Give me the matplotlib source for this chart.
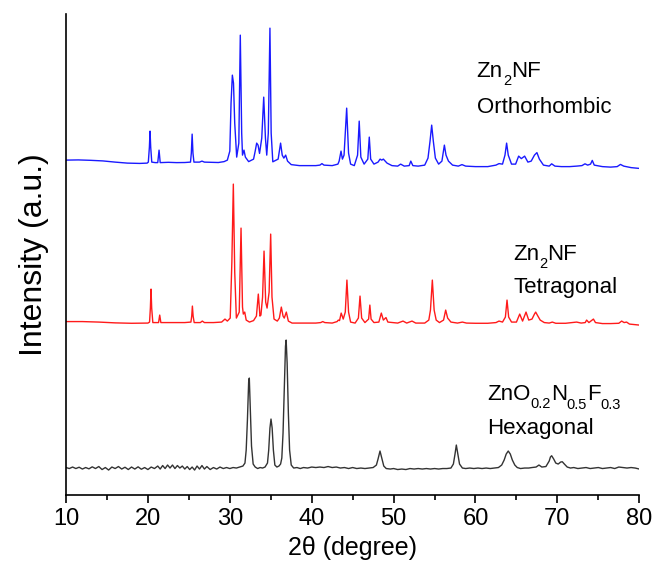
import matplotlib
matplotlib.use("Agg")
import matplotlib.pyplot as plt
from matplotlib.ticker import MultipleLocator

plt.rcParams['font.family'] = ['Liberation Sans', 'DejaVu Sans']

# ---- traced patterns: 2theta (deg) and intensity (a.u.) above own baseline ----
# Zn2NF orthorhombic
ortho_2t = [10.0, 11.5, 13.0, 14.5, 16.0, 17.5, 19.0, 19.9,
            20.05, 20.18, 20.26, 20.34, 20.47, 20.9, 21.2, 21.36, 21.5,
            22.5, 23.5, 24.5, 25.2, 25.3, 25.4, 25.5, 25.62,
            26.3, 26.6, 26.9, 27.8, 28.6, 29.3, 29.7,
            30.0, 30.15, 30.31, 30.45, 30.6, 30.84, 31.1, 31.28, 31.45, 31.55, 31.73, 31.9, 32.3,
            32.9, 33.1, 33.28, 33.45, 33.63, 33.9, 34.14, 34.35, 34.51,
            34.7, 34.9, 35.05, 35.25, 35.9, 36.05, 36.2, 36.4, 36.6, 36.82, 37.05,
            37.5, 38.5, 39.5, 40.5, 41.0, 41.25, 41.5, 42.5, 43.2,
            43.35, 43.58, 43.75, 43.95, 44.27, 44.5, 44.75, 45.2, 45.6, 45.8, 46.0, 46.4,
            46.85, 47.03, 47.2, 47.6, 48.1, 48.35, 48.55, 48.75, 49.2, 49.8, 50.5, 50.86,
            51.3, 51.9, 52.1, 52.35, 53.0, 53.8, 54.2, 54.45, 54.65, 54.85, 55.1, 55.5,
            55.9, 56.2, 56.4, 56.7, 57.2, 57.9, 58.35, 58.8, 60.0, 61.5, 62.5, 62.87,
            63.3, 63.6, 63.8, 64.0, 64.4, 64.9, 65.27, 65.6, 66.0, 66.4, 66.8, 67.2,
            67.5, 67.8, 68.3, 69.0, 69.3, 69.7, 70.5, 71.5, 72.35, 73.0, 73.37, 73.7,
            74.05, 74.26, 74.5, 75.5, 76.5, 77.3, 77.7, 78.1, 79.0, 80.0]
ortho_int = [3, 3.2, 2.8, 2.2, 1, 0, -0.3, 0,
             1, 16, 32, 16, 1, 0.5, 0.5, 13, 0.5,
             0.8, 0.5, 0.6, 1, 10, 29, 10, 1,
             1, 2, 1, 0.8, 0.6, 1.5, 3,
             12, 60, 88, 80, 40, 6, 20, 128, 30, 8, 13, 6, 1.5,
             4, 12, 20, 18, 9.7, 25, 66, 25, 8,
             30, 135, 30, 1.3, 4, 12, 20, 8, 5, 8, 2,
             -1.5, -2.5, -2.5, -2.5, -2, -0.5, -2, -2.5, -1,
             2, 12, 4, 8, 55, 10, -1, -2.5, 8, 42, 6, -1,
             4, 26, 4, -1, 1, 4, 3, 4, 0, -2.5, -3, -1,
             -3, -2.5, 2, -2.5, -3, -2, 5, 22, 38, 22, 5, -1,
             2, 18, 8, 2, -2, -3, -1.5, -3, -3.5, -3.5, -2, -0.5,
             -1, 8, 20, 8, -1, -1, 7, 4.5, 7, 1, 2, 8,
             10.5, 4, -2, -3, -0.7, -3, -3.5, -3.5, -3, -2.5, -0.7, -2,
             -1, 2.7, -2, -3.5, -4, -3.5, -1.3, -3, -4.5, -5.3]

# Zn2NF tetragonal
tetra_2t = [10.0, 12.0, 14.0, 16.0, 18.0, 20.0,
            20.2, 20.3, 20.38, 20.46, 20.6, 21.3, 21.44, 21.58,
            22.5, 23.5, 24.5, 25.25, 25.35, 25.43, 25.52, 25.65,
            26.4, 26.64, 26.9, 28.0, 29.0, 29.41, 29.7,
            30.05, 30.25, 30.43, 30.6, 30.8, 31.15, 31.37, 31.55, 31.65, 31.82, 32.0, 32.4, 32.9,
            33.25, 33.48, 33.68, 33.8, 34.0, 34.18, 34.38, 34.55,
            34.8, 34.99, 35.15, 35.4, 35.8, 36.05, 36.29, 36.5, 36.65, 36.9, 37.15,
            37.6, 38.5, 39.5, 40.5, 41.1, 41.35, 41.6, 42.5,
            43.1, 43.25, 43.4, 43.6, 43.85, 44.1, 44.3, 44.5, 44.75, 45.3,
            45.7, 45.9, 46.1, 46.5, 46.95, 47.1, 47.25, 47.6, 48.2, 48.5, 48.75,
            49.07, 49.3, 50.5, 51.15, 51.6, 52.25, 52.7, 53.8, 54.3,
            54.5, 54.73, 54.95, 55.2, 55.6, 56.1, 56.36, 56.6, 57.0, 57.8, 58.4, 58.9,
            60.0, 61.5, 62.5, 62.87, 63.3, 63.65, 63.85, 64.05, 64.4, 65.0, 65.4, 65.75,
            66.17, 66.5, 66.9, 67.2, 67.35, 67.55, 67.9, 68.4, 69.0, 69.38, 69.8, 71.0,
            72.35, 72.9, 73.4, 73.57, 73.85, 74.4, 74.65, 75.5, 76.5, 77.5, 77.85, 78.15,
            78.45, 78.8, 80.0]
tetra_int = [0.5, 0.5, 0, -0.8, -1.2, -1,
             0, 14, 33, 14, -0.5, -0.5, 7, -0.5,
             -0.5, -0.6, -0.5, 0, 6, 16, 6, -0.5,
             -0.5, 1, -0.5, -0.5, 0, 3, 1,
             4, 60, 138, 50, 4, 10, 94, 15, 8, 10, 2, 0, 1.5,
             6, 28, 6, 7, 25, 71, 20, 14,
             30, 88, 25, 3, 1, 4, 15, 6, 4, 10, 1,
             -1, -1, -1, -1, -0.5, 0.5, -0.5, -1,
             0.5, 2, 1.5, 9, 3, 10, 42, 10, 0, -1,
             4, 26, 4, -0.5, 3, 17, 3, -0.5, 0, 9, 2,
             4.5, 0, -1, 1, -1, 1, -1, -1, 2,
             12, 42, 12, 2, -0.5, 2, 12, 4, 0, -1, 0, -1,
             -1.2, -1.2, -0.5, 1, 0, 5, 22, 5, 0, 0, 8, 1,
             10, 2, 3, 8, 10, 7, 2, -0.5, -1, 0, -1.2, -1.2,
             0, -1, -0.5, 2, -0.5, 3, -0.5, -1.5, -1.5, -1.2, 1, -0.5,
             0, -2, -3]

# ZnO0.2N0.5F0.3 hexagonal
hexa_2t = [10.0, 10.4, 10.8, 11.2, 11.6, 12.0, 12.4, 12.8, 13.2, 13.6, 14.0, 14.4,
           14.8, 15.2, 15.6, 16.0, 16.4, 16.8, 17.2, 17.6, 18.0, 18.4, 18.8, 19.2,
           19.6, 20.0, 20.4, 20.8, 21.2, 21.5, 21.8, 22.1, 22.4, 22.7, 23.0, 23.3,
           23.6, 23.9, 24.2, 24.5, 24.8, 25.1, 25.4, 25.7, 26.0, 26.3, 26.6, 26.9,
           27.2, 27.6, 28.0, 28.4, 28.8, 29.2, 29.6, 30.0, 30.4, 30.8, 31.2, 31.6, 31.85,
           32.0, 32.15, 32.3, 32.38, 32.5, 32.65, 32.85, 33.1, 33.4, 33.7, 34.0, 34.3,
           34.6, 34.75, 34.9, 35.03, 35.17, 35.32, 35.5, 35.75, 36.0, 36.2,
           36.35, 36.5, 36.65, 36.8, 36.88, 37.0, 37.15, 37.3, 37.5, 37.8, 38.2, 38.6,
           39.0, 39.5, 40.0, 40.5, 41.0, 41.5, 42.0, 42.5, 43.0, 43.5, 44.0, 44.5,
           45.0, 45.5, 46.0, 46.5, 47.0, 47.5, 47.9, 48.1, 48.34, 48.55, 48.8, 49.1,
           49.6, 50.0, 50.5, 51.0, 51.5, 52.0, 52.5, 53.0, 53.5, 54.0, 54.5, 55.0,
           55.5, 56.0, 56.5, 57.0, 57.3, 57.5, 57.66, 57.85, 58.05, 58.4, 58.8, 59.3,
           59.8, 60.3, 60.8, 61.3, 61.8, 62.3, 62.8, 63.2, 63.5, 63.75, 64.0, 64.25,
           64.5, 64.8, 65.1, 65.5, 66.0, 66.5, 66.9, 67.4, 67.75, 68.1, 68.6, 69.0,
           69.15, 69.3, 69.55, 69.8, 70.1, 70.4, 70.6, 70.85, 71.2, 71.6, 72.0, 72.5,
           73.0, 73.5, 74.0, 74.5, 75.0, 75.5, 76.0, 76.5, 77.0, 77.5, 78.0, 78.5,
           79.0, 79.5, 80.0]
hexa_int = [0.5, -0.5, 1, -0.5, 0.8, -1, 0.5, -0.8, 1.2, -0.5, 1.5, -1.5,
            0.5, -2, 1, -0.5, 1.5, -1, 0.8, -1.5, 1, -1, 1.2, -1.2,
            0.5, -1.5, 1, -0.5, 2, -1, 2.5, -0.5, 3, 0, 3, -0.5,
            2.5, 0, 2, -1, 1.5, -1.5, 1, -2, 2, -1, 2.5, -1,
            1.5, -1.5, 0.5, -1, 1, -0.5, 0.5, -0.5, 0.5, 0, 1, 2, 5,
            18, 48, 86, 90, 60, 22, 4, 1, -0.5, 0.5, 0, 1,
            5, 18, 40, 49, 40, 18, 3, 1, 2, 4,
            10, 35, 80, 122, 128, 105, 55, 18, 3, 0, 0.5, -0.5,
            0.5, 0, 1, 0.5, 1, 0.5, 1.5, 0.5, 1, 0, 0.5, -0.5,
            0.5, -0.5, 0, -0.5, 0, 0.5, 3, 9, 17, 10, 2, -0.5,
            -1, -0.5, -1.5, -1, -1.5, -0.5, -1, -0.5, -1, -0.5, -1, -0.5,
            -1, -0.5, -0.5, 0, 4, 14, 23, 14, 4, 0, -0.5, 0,
            -0.5, 0, -0.5, 0, -0.5, 0, 0.5, 3, 8, 14, 17, 14,
            8, 3, 0.5, -0.5, 0, 0, 0.5, 1, 3, 1, 1.5, 7,
            11, 12.3, 9, 5, 4, 6, 6.3, 4, 1, 0, 0.5, -0.5,
            0, 0.5, -0.5, 0, 0.5, -0.5, 0, 0.5, -0.5, 1, 0.5, 0,
            0.5, 0, -1]

offsets = {'hexa': 27, 'tetra': 173, 'ortho': 332}

fig = plt.figure(figsize=(6.55, 5.69), dpi=100)
ax = fig.add_axes([0.1008, 0.130, 0.8752, 0.846])

ax.plot(hexa_2t, [v + offsets['hexa'] for v in hexa_int], color='#333333', lw=1.0)
ax.plot(tetra_2t, [v + offsets['tetra'] for v in tetra_int], color='#ff1a1a', lw=1.0)
ax.plot(ortho_2t, [v + offsets['ortho'] for v in ortho_int], color='#1a1aff', lw=1.0)

ax.set_xlim(10, 80)
ax.set_ylim(0, 481.5)
ax.xaxis.set_major_locator(MultipleLocator(10))
ax.xaxis.set_minor_locator(MultipleLocator(5))
ax.set_yticks([])
ax.spines['top'].set_visible(False)
ax.spines['right'].set_visible(False)
for s in ['left', 'bottom']:
  ax.spines[s].set_linewidth(1.2)
ax.tick_params(axis='x', which='major', direction='out', length=6, width=1.2, labelsize=17, pad=3)
ax.tick_params(axis='x', which='minor', direction='out', length=3.5, width=1.2)
ax.set_xlabel("2θ (degree)", fontsize=18, labelpad=5)
ax.set_ylabel("Intensity (a.u.)", fontsize=23, labelpad=12)

# labels with deep subscripts, built piece by piece
FS, SUB_FS, SHIFT = 16, 10.5, 5.8   # pt
DESC = 0.212                        # descent of "lp" as fraction of size


def chem(x, y, parts):
  t = ax.text(x, y, parts[0][0], fontsize=FS, va='baseline')
  base, d_prev = 0.0, DESC * FS
  for s, sub in parts[1:]:
    target = -SHIFT if sub else 0.0
    fs = SUB_FS if sub else FS
    t = ax.annotate(s, xy=(1, 0), xycoords=t, xytext=(0, target - (base - d_prev)),
                    textcoords='offset points', fontsize=fs, va='baseline', ha='left')
    base, d_prev = target, DESC * fs


chem(60.15, 418, [("Zn", 0), ("2", 1), ("NF", 0)])
ax.text(60.15, 382, "Orthorhombic", fontsize=FS, va='baseline')
chem(64.6, 235, [("Zn", 0), ("2", 1), ("NF", 0)])
ax.text(64.6, 201.7, "Tetragonal", fontsize=FS, va='baseline')
chem(61.4, 95, [("ZnO", 0), ("0.2", 1), ("N", 0), ("0.5", 1), ("F", 0), ("0.3", 1)])
ax.text(61.4, 60.7, "Hexagonal", fontsize=FS, va='baseline')

fig.savefig("out.png", dpi=100)
